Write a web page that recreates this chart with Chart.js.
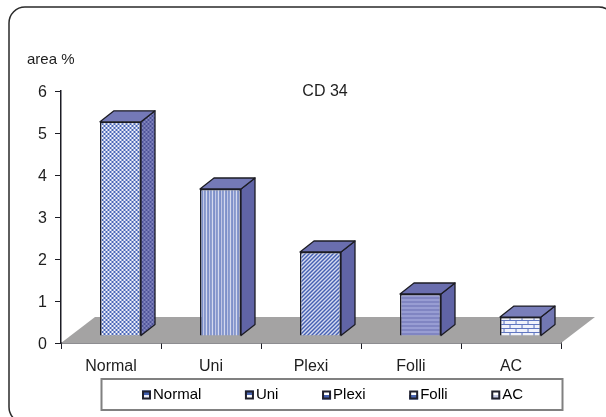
<!DOCTYPE html>
<html>
<head>
<meta charset="utf-8">
<script src="https://cdn.jsdelivr.net/npm/chart.js@4"></script>
<style>
html, body { margin: 0; padding: 0; background: #ffffff; overflow: hidden; }
canvas { display: block; }
</style>
</head>
<body>
<canvas id="chart" width="606" height="417"></canvas>
<script>
// Дані графіка
const categories = ['Normal', 'Uni', 'Plexi', 'Folli', 'AC'];
const areaValues = [5.1, 3.5, 2.0, 1.0, 0.45];
const yTicks = [0, 1, 2, 3, 4, 5, 6];
const yLabel = 'area %';
const chartTitle = 'CD 34';

const textColor = '#1e1e1e';
const lineColor = '#1c1c24';
const font = { family: '"Liberation Sans", Arial, sans-serif', size: 15 };
const axisFont = { family: font.family, size: 16 };

// Зсув передньої грані стовпчика та глибина 3D
const barShift = { x: 9.5, y: -7 };
const barDepth = { x: 14, y: -11 };
const floorDepth = { x: 34, y: -26 };

// Штрихування через маленький канвас
function makePattern(w, h, draw) {
    const c = document.createElement('canvas');
    c.width = w;
    c.height = h;
    draw(c.getContext('2d'));
    return c.getContext('2d').createPattern(c, 'repeat');
}

function checker(light, dark, size) {
    return makePattern(size * 2, size * 2, (g) => {
        g.fillStyle = light;
        g.fillRect(0, 0, size * 2, size * 2);
        g.fillStyle = dark;
        g.fillRect(0, 0, size, size);
        g.fillRect(size, size, size, size);
    });
}

const frontFills = [
    makePattern(4, 4, (g) => {
        g.fillStyle = '#4a67b8';
        g.fillRect(0, 0, 4, 4);
        g.fillStyle = '#eef0fa';
        g.fillRect(0, 0, 2, 2);
        g.fillRect(2, 2, 2, 2);
    }),
    makePattern(6, 2, (g) => {
        g.fillStyle = '#c3c8e6';
        g.fillRect(0, 0, 6, 2);
        g.fillStyle = '#4a66b4';
        g.fillRect(0, 0, 1, 2);
        g.fillRect(3, 0, 1, 2);
        g.fillStyle = '#e8eaf6';
        g.fillRect(4, 0, 1, 2);
    }),
    makePattern(4, 4, (g) => {
        g.fillStyle = '#d5daf0';
        g.fillRect(0, 0, 4, 4);
        g.fillStyle = '#4560b2';
        for (let i = 0; i < 4; i++) {
            g.fillRect(i, 3 - i, 1, 1);
            g.fillRect((i + 1) % 4, 3 - i, 1, 1);
        }
    }),
    makePattern(2, 4, (g) => {
        g.fillStyle = '#989dd3';
        g.fillRect(0, 0, 2, 4);
        g.fillStyle = '#8085c2';
        g.fillRect(0, 0, 2, 2);
    }),
    makePattern(12, 8, (g) => {
        g.fillStyle = '#f0f2fb';
        g.fillRect(0, 0, 12, 8);
        g.fillStyle = '#6076c0';
        g.fillRect(0, 3, 12, 1);
        g.fillRect(0, 7, 12, 1);
        g.fillRect(2, 0, 1, 3);
        g.fillRect(8, 4, 1, 3);
    })
];

const sideFills = [
    checker('#8185be', '#4f5399', 2),
    '#6064a6',
    '#6064a6',
    '#6064a6',
    checker('#9094c8', '#555a9e', 1)
];

const topFills = [
    checker('#8a8ec6', '#5f64a8', 1),
    checker('#8a8ec6', '#5f64a8', 1),
    '#6a6eae',
    '#6a6eae',
    checker('#9498cc', '#5f64a8', 1)
];

// Кольори значків легенди: верхня та нижня частина
const swatchFills = [
    ['#3f5db0', '#e8eaf6'],
    ['#4a66b4', '#ffffff'],
    ['#ffffff', '#4560b2'],
    ['#ffffff', '#4a66b4'],
    ['#ffffff', '#c8cde8']
];

// Рамка, підлога та бічні грані
const scene3d = {
    id: 'scene3d',
    beforeInit(chart) {
        // Відступ легенди не повинен з'їдати висоту графіка
        const legend = chart.legend;
        const fit = legend.fit;
        legend.fit = function () {
            fit.call(legend);
            legend.height = 40;
        };
    },
    afterUpdate(chart) {
        const legend = chart.legend;
        const padding = legend.options.labels.padding;
        legend.left = 142 - padding;
        legend.right = 760;
        legend.top = 395 - 7.5 - padding;
        legend.adjustHitBoxes();

        // Підписи осі Y трохи нижче, як на оригіналі
        chart.scales.y.getLabelItems(chart.chartArea).forEach((item) => {
            item.options.translation[1] += 1.5;
        });
    },
    beforeDraw(chart) {
        const ctx = chart.ctx;
        ctx.save();
        ctx.strokeStyle = '#2a2a2a';
        ctx.lineWidth = 1.5;
        ctx.beginPath();
        ctx.roundRect(9, 7, 606, 416, 16);
        ctx.stroke();

        ctx.strokeStyle = '#808080';
        ctx.lineWidth = 2;
        ctx.strokeRect(101.5, 379, 461, 31);
        ctx.restore();
    },
    beforeDatasetsDraw(chart) {
        const ctx = chart.ctx;
        const xs = chart.scales.x;
        const y0 = chart.scales.y.getPixelForValue(0);
        ctx.save();
        ctx.fillStyle = '#a4a3a3';
        ctx.beginPath();
        ctx.moveTo(xs.left, y0);
        ctx.lineTo(xs.right, y0);
        ctx.lineTo(xs.right + floorDepth.x, y0 + floorDepth.y);
        ctx.lineTo(xs.left + floorDepth.x, y0 + floorDepth.y);
        ctx.closePath();
        ctx.fill();
        ctx.restore();

        ctx.save();
        ctx.translate(barShift.x, barShift.y);
    },
    afterDatasetsDraw(chart) {
        const ctx = chart.ctx;
        ctx.strokeStyle = lineColor;
        ctx.lineWidth = 1.3;
        ctx.lineJoin = 'round';
        chart.getDatasetMeta(0).data.forEach((bar, i) => {
            const right = bar.x + bar.width / 2;
            const left = bar.x - bar.width / 2;

            ctx.fillStyle = sideFills[i];
            ctx.beginPath();
            ctx.moveTo(right, bar.y);
            ctx.lineTo(right + barDepth.x, bar.y + barDepth.y);
            ctx.lineTo(right + barDepth.x, bar.base + barDepth.y);
            ctx.lineTo(right, bar.base);
            ctx.closePath();
            ctx.fill();
            ctx.stroke();

            ctx.fillStyle = topFills[i];
            ctx.beginPath();
            ctx.moveTo(left, bar.y);
            ctx.lineTo(left + barDepth.x, bar.y + barDepth.y);
            ctx.lineTo(right + barDepth.x, bar.y + barDepth.y);
            ctx.lineTo(right, bar.y);
            ctx.closePath();
            ctx.fill();
            ctx.stroke();
        });
        ctx.restore();
    },
    afterDraw(chart) {
        const ctx = chart.ctx;
        ctx.save();
        ctx.fillStyle = textColor;
        ctx.font = font.size + 'px ' + font.family;
        ctx.textBaseline = 'middle';
        ctx.textAlign = 'left';
        ctx.fillText(yLabel, 27, 60);
        ctx.textAlign = 'center';
        ctx.font = axisFont.size + 'px ' + font.family;
        ctx.fillText(chartTitle, 325, 92);

        // Значки легенди
        chart.legend.legendHitBoxes.forEach((box, i) => {
            const x = box.left;
            const y = 390.5;
            ctx.fillStyle = swatchFills[i][0];
            ctx.fillRect(x, y, 9, 4.5);
            ctx.fillStyle = swatchFills[i][1];
            ctx.fillRect(x, y + 4.5, 9, 4.5);
            ctx.strokeStyle = '#20202c';
            ctx.lineWidth = 2;
            ctx.strokeRect(x + 1, y + 1, 7, 7);
        });
        ctx.restore();
    }
};

new Chart(document.getElementById('chart'), {
    type: 'bar',
    data: {
        labels: categories,
        datasets: [{
            data: areaValues,
            backgroundColor: frontFills,
            borderColor: lineColor,
            borderWidth: 1.5,
            categoryPercentage: 1,
            barPercentage: 0.41,
            clip: false
        }]
    },
    options: {
        responsive: false,
        animation: false,
        layout: { padding: { left: 0, right: 45, top: 91, bottom: 0 } },
        plugins: {
            tooltip: { enabled: false },
            legend: {
                position: 'bottom',
                align: 'start',
                onClick: null,
                labels: {
                    color: textColor,
                    font: font,
                    boxWidth: 3.5,
                    padding: 43.6,
                    generateLabels: () => categories.map((name) => ({
                        text: name,
                        fillStyle: 'rgba(0,0,0,0)',
                        strokeStyle: 'rgba(0,0,0,0)',
                        lineWidth: 0
                    }))
                }
            }
        },
        scales: {
            x: {
                z: 1,
                afterFit: (scale) => { scale.height = 34; },
                border: { color: lineColor, width: 1.5 },
                grid: { drawOnChartArea: false, tickLength: 6, tickColor: lineColor },
                ticks: { color: textColor, font: axisFont, padding: 8, maxRotation: 0 }
            },
            y: {
                z: 1,
                min: yTicks[0],
                max: yTicks[yTicks.length - 1],
                afterFit: (scale) => { scale.width = 61; },
                afterBuildTicks: (scale) => { scale.ticks = yTicks.map((v) => ({ value: v })); },
                border: { color: lineColor, width: 1.5 },
                grid: { drawOnChartArea: false, tickLength: 6, tickColor: lineColor },
                ticks: { color: textColor, font: axisFont, padding: 8 }
            }
        }
    },
    plugins: [scene3d]
});
</script>
</body>
</html>
